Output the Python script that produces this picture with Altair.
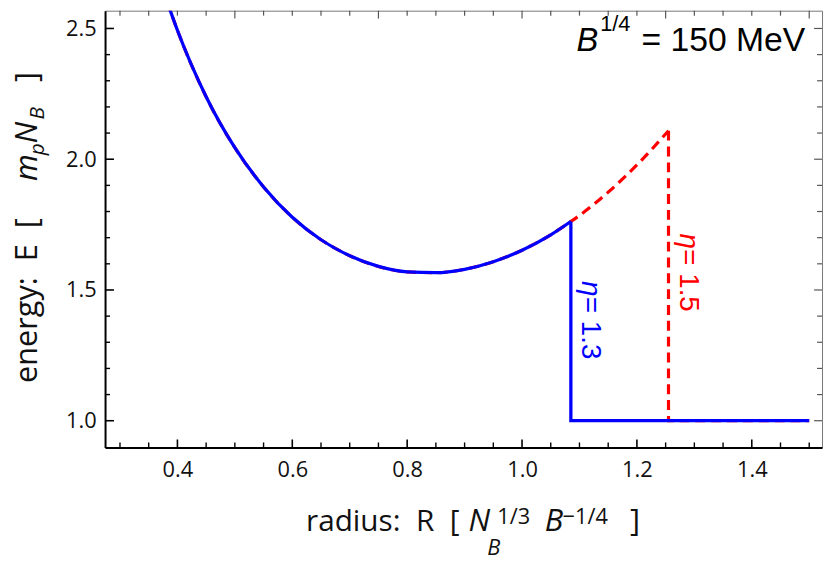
import altair as alt
import pandas as pd

# ---- data ----
R_curve = [0.382, 0.40, 0.45, 0.50, 0.55, 0.60, 0.65, 0.70, 0.75, 0.80, 0.85, 0.90, 0.95, 1.00, 1.05, 1.085]
E_curve = [2.603, 2.493, 2.239, 2.044, 1.894, 1.778, 1.692, 1.631, 1.590, 1.569, 1.566, 1.579, 1.608, 1.652, 1.711, 1.762]
R_ext = [1.10, 1.15, 1.20, 1.255]
E_ext = [1.785, 1.874, 1.978, 2.109]
R_jump_13 = 1.085
E_jump_13 = 1.762
R_jump_15 = 1.255
E_jump_15 = 2.109
E_floor = 1.0
R_max = 1.5

x_major = [0.4, 0.6, 0.8, 1.0, 1.2, 1.4]
x_minor = [0.3, 0.35, 0.45, 0.5, 0.55, 0.65, 0.7, 0.75, 0.85, 0.9, 0.95, 1.05, 1.1, 1.15,
           1.25, 1.3, 1.35, 1.45, 1.5]
top_major = [0.5, 0.75, 1.0, 1.25, 1.5]
top_minor = [0.3, 0.35, 0.4, 0.45, 0.55, 0.6, 0.65, 0.7, 0.8, 0.85, 0.9, 0.95, 1.05, 1.1,
             1.15, 1.2, 1.3, 1.35, 1.4, 1.45]
y_major = [1.0, 1.5, 2.0, 2.5]
y_minor = [1.1, 1.2, 1.3, 1.4, 1.6, 1.7, 1.8, 1.9, 2.1, 2.2, 2.3, 2.4]

W, H = 724, 441
xs = alt.Scale(domain=[0.274, 1.5223], nice=False, zero=False)
ys = alt.Scale(domain=[0.898, 2.568], nice=False, zero=False)

LABEL_FONT = "Open Sans"
ARIAL = "Liberation Sans"
BLUE = "#0000ff"
RED = "#ff0000"
NB = "\u00a0"

xaxis = alt.Axis(values=x_major, format=".1f", ticks=False, grid=False, domainColor="black",
                 domainWidth=2, labelFont=LABEL_FONT, labelFontSize=22, labelPadding=12,
                 labelColor="#111", title=None)
yaxis = alt.Axis(values=y_major, format=".1f", ticks=False, grid=False, domainColor="black",
                 domainWidth=2, labelFont=LABEL_FONT, labelFontSize=22, labelPadding=9,
                 labelColor="#111", title=None)


def X(field):
    return alt.X(field, scale=xs, axis=xaxis)


def Y(field):
    return alt.Y(field, scale=ys, axis=yaxis)


red_curve_df = pd.DataFrame({"R": R_curve + R_ext, "E": E_curve + E_ext})
blue_curve_df = pd.DataFrame({"R": R_curve, "E": E_curve})
blue_step_df = pd.DataFrame({"R": [R_jump_13, R_jump_13, R_max], "E": [E_jump_13, E_floor, E_floor], "o": [0, 1, 2]})
red_step_df = pd.DataFrame({"R": [R_jump_15, R_jump_15, R_max], "E": [E_jump_15, E_floor, E_floor], "o": [0, 1, 2]})

red_curve = alt.Chart(red_curve_df).mark_line(color=RED, strokeWidth=3.2, strokeDash=[10, 6],
                                               interpolate="monotone", clip=True).encode(
    x=X("R:Q"), y=Y("E:Q"), order="R:Q")
red_step = alt.Chart(red_step_df).mark_line(color=RED, strokeWidth=3.2, strokeDash=[10, 6]).encode(
    x=X("R:Q"), y=Y("E:Q"), order="o:Q")
blue_curve = alt.Chart(blue_curve_df).mark_line(color=BLUE, strokeWidth=3.3,
                                                 interpolate="monotone", clip=True).encode(
    x=X("R:Q"), y=Y("E:Q"), order="R:Q")
blue_step = alt.Chart(blue_step_df).mark_line(color=BLUE, strokeWidth=3.3, strokeJoin="miter").encode(
    x=X("R:Q"), y=Y("E:Q"), order="o:Q")


def xticks(vals, y0, y1, color, width):
    return alt.Chart(pd.DataFrame({"t": vals})).mark_rule(color=color, strokeWidth=width).encode(
        x=X("t:Q"), y=alt.value(y0), y2=alt.value(y1))


def yticks(vals, x0, x1, color, width):
    return alt.Chart(pd.DataFrame({"t": vals})).mark_rule(color=color, strokeWidth=width).encode(
        y=Y("t:Q"), x=alt.value(x0), x2=alt.value(x1))


tick_layers = [
    xticks(x_major, H, H - 8, "black", 1.6),
    xticks(x_minor, H, H - 5, "black", 1.4),
    xticks(top_major, 0, 8, "#555", 1.2),
    xticks(top_minor, 0, 5, "#555", 1.2),
    yticks(y_major, 0, 9, "black", 1.6),
    yticks(y_minor, 0, 5, "black", 1.4),
    yticks(y_major, W, W - 8, "#555", 1.2),
    yticks(y_minor, W, W - 5, "#555", 1.2),
]

one = alt.Data(values=[{}])


def txt(s, x, y, size, font=LABEL_FONT, style="normal", angle=0, align="left",
        baseline="alphabetic", color="#111"):
    return alt.Chart(one).mark_text(text=s, font=font, fontSize=size, fontStyle=style, angle=angle,
                                    align=align, baseline=baseline, color=color).encode(
        x=alt.value(x), y=alt.value(y))


texts = [
    # annotation
    txt("B", 476, 41, 33, font=ARIAL, style="italic", color="black"),
    txt("1/4", 500, 21, 22, font=ARIAL, color="black"),
    txt("= 150 MeV", 707, 41, 34, font=ARIAL, align="right", color="black"),
    # eta labels
    txt("η", 490, 273, 28, font=ARIAL, style="italic", angle=90, baseline="middle", color=BLUE),
    txt("= 1.3", 490, 289, 28, font=ARIAL, angle=90, baseline="middle", color=BLUE),
    txt("η", 589, 225, 28, font=ARIAL, style="italic", angle=90, baseline="middle", color=RED),
    txt("= 1.5", 589, 241, 28, font=ARIAL, angle=90, baseline="middle", color=RED),
    # x title
    txt("radius:" + NB + NB + "R" + NB + NB + "[", 203, 525, 30),
    txt("N", 367, 525, 31, style="italic"),
    txt("B", 386, 550, 22, style="italic"),
    txt("1/3", 396, 518, 22),
    txt("B", 444, 525, 31, style="italic"),
    txt("−1/4", 462, 518, 22),
    txt("]", 530, 525, 31),
    # y title (rotated)
    txt("energy:" + NB + NB + "E" + NB + NB + "[", -69, 376, 31, angle=270),
    txt("m", -69, 172, 31, style="italic", angle=270),
    txt("p", -62, 146, 21, style="italic", angle=270),
    txt("N", -69, 134, 31, style="italic", angle=270),
    txt("B", -62, 110, 21, style="italic", angle=270),
    txt("]", -69, 72, 31, angle=270),
]

chart = alt.layer(red_curve, red_step, blue_curve, blue_step, *tick_layers, *texts).properties(
    width=W, height=H,
    padding={"left": 98, "top": 0, "right": 3, "bottom": 112},
    autosize=alt.AutoSizeParams(type="none"),
).configure_view(stroke="#777", strokeWidth=1)

chart.save("out.html", embed_options={"renderer": "svg", "actions": False})
